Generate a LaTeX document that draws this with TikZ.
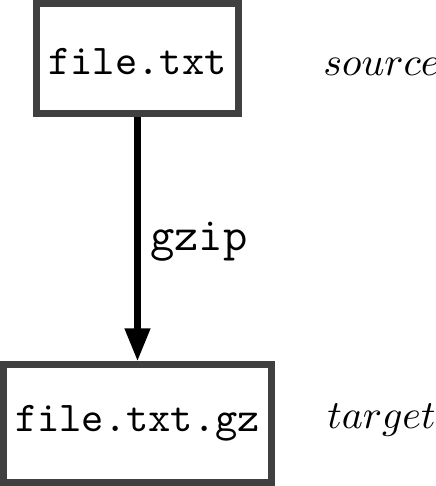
\documentclass[tikz,border=0pt]{standalone}
\usetikzlibrary{arrows.meta}
\definecolor{boxgray}{HTML}{404040}
\begin{document}
\begin{tikzpicture}[x=0.25pt,y=-0.25pt,
    filebox/.style={draw=boxgray, line width=1.75pt, fill=white, inner sep=0pt,
      font=\fontsize{10.6}{12}\selectfont\ttfamily},
    role/.style={anchor=base, font=\fontsize{9.7}{12}\selectfont}]
            \useasboundingbox (0,0) rectangle (436,486);
            \node[filebox, minimum width=50.5pt, minimum height=27.5pt, text height=8.2pt] (src) at (137.5,58.5) {file.txt};
            \node[filebox, minimum width=67pt, minimum height=29.4pt] (tgt) at (137.5,423.75) {file.txt.gz};
            \draw[-{Triangle[length=8.25pt, width=6pt]}, line width=1.75pt] (src) -- (tgt)
              node [midway, right=2.3pt, inner sep=0pt, yshift=-0.5pt, font=\fontsize{11.8}{13}\selectfont\ttfamily] (cmd) {gzip};
            \node[role] (srcrole) at (381.5,75) {$source$};
            \node[role] (tgtrole) at (381.5,428) {$target$};
    \end{tikzpicture}
\end{document}
